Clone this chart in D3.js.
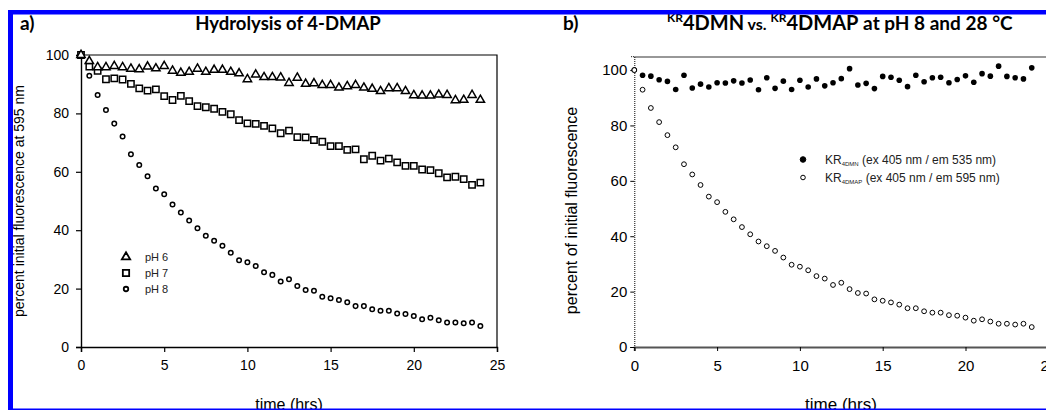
<!DOCTYPE html>
<html>
<head>
<meta charset="utf-8">
<script src="https://cdn.jsdelivr.net/npm/d3@7"></script>
<style>
  body { margin: 0; background: #fff; }
  svg { display: block; }
  .tick text { font-family: "Liberation Sans", Arial, sans-serif; }
</style>
</head>
<body>
<div id="chart"></div>
<script>
// sampling times (hrs)
const times = [0, 0.5, 1, 1.5, 2, 2.5, 3, 3.5, 4, 4.5, 5, 5.5, 6, 6.5, 7, 7.5, 8, 8.5, 9, 9.5,
  10, 10.5, 11, 11.5, 12, 12.5, 13, 13.5, 14, 14.5, 15, 15.5, 16, 16.5, 17, 17.5, 18, 18.5, 19, 19.5,
  20, 20.5, 21, 21.5, 22, 22.5, 23, 23.5, 24]

// panel a: hydrolysis of 4-DMAP
const ph6 = [100, 97.9, 95.8, 95.8, 96.2, 95.8, 95.3, 95.1, 96.0, 95.4, 96.2, 94.6, 93.9, 94.2, 95.3, 94.2,
  94.9, 94.9, 94.2, 93.7, 91.7, 93.3, 92.4, 92.4, 92.3, 90.4, 92.2, 90.1, 90.3, 89.7, 89.7, 88.8, 89.3,
  89.7, 88.8, 88.4, 87.6, 88.6, 88.6, 87.6, 86.2, 86.1, 86.1, 86.4, 86.3, 84.5, 84.6, 86.3, 84.6]
const ph7 = [100, 96.0, 94.6, 91.7, 92.0, 91.6, 90.1, 88.6, 87.8, 88.2, 85.9, 84.6, 86.0, 84.2, 82.5, 82.1,
  81.6, 80.5, 79.7, 77.7, 76.6, 76.4, 75.7, 74.9, 73.2, 74.1, 71.9, 71.8, 70.9, 70.3, 68.8, 68.8, 67.5,
  67.7, 64.3, 65.5, 63.8, 64.5, 63.2, 62.0, 62.0, 60.8, 60.6, 59.5, 58.1, 58.3, 57.5, 55.5, 56.3]
const ph8 = [100, 92.9, 86.3, 81.2, 76.5, 72.1, 66.0, 62.3, 58.5, 54.3, 52.3, 48.8, 46.1, 43.3, 40.7, 38.1,
  36.4, 34.7, 32.3, 29.7, 29.0, 27.7, 25.6, 24.7, 22.4, 23.2, 20.9, 19.5, 19.3, 17.2, 16.7, 16.1, 15.3,
  14.0, 14.0, 12.9, 12.4, 12.4, 11.5, 11.3, 10.6, 9.5, 10.0, 9.2, 8.4, 8.4, 8.1, 8.4, 7.2]

// panel b: KR4DMN vs KR4DMAP at pH 8
const kr4dmn = [100, 98.1, 97.8, 96.5, 95.9, 93.0, 98.1, 93.5, 94.9, 93.9, 95.4, 95.3, 96.1, 95.3, 96.4, 92.9,
  97.2, 93.4, 96.0, 93.0, 96.3, 93.9, 96.8, 94.3, 95.4, 96.9, 100.5, 94.6, 95.2, 93.3, 97.7, 97.4, 96.3,
  94.0, 98.1, 95.8, 97.2, 97.4, 95.4, 96.6, 97.9, 95.6, 98.7, 97.8, 101.4, 97.7, 97.2, 96.8, 100.8]
const kr4dmap = ph8

const xTicks = [0, 5, 10, 15, 20, 25]
const yTicks = [0, 20, 40, 60, 80, 100]

const W = 1046, H = 410
const svg = d3.select("#chart").append("svg")
  .attr("width", W).attr("height", H)

const titleFont = "Lato, 'Open Sans', sans-serif"
const arial = "'Liberation Sans', Arial, sans-serif"

// ---------- panel a ----------
const xa = d3.scaleLinear().domain([0, 25]).range([81, 497])
const ya = d3.scaleLinear().domain([0, 100]).range([347, 55])

const ga = svg.append("g")

// frame (top + right)
ga.append("path")
  .attr("d", `M${xa(0)},${ya(100)}H${xa(25)}V${ya(0)}`)
  .attr("fill", "none").attr("stroke", "#000").attr("stroke-width", 1.2)

const axA = ga.append("g")
  .attr("transform", `translate(0,${ya(0)})`)
  .call(d3.axisBottom(xa).tickValues(xTicks).tickSize(5).tickPadding(8))
const ayA = ga.append("g")
  .attr("transform", `translate(${xa(0)},0)`)
  .call(d3.axisLeft(ya).tickValues(yTicks).tickSize(5).tickPadding(7))
;[axA, ayA].forEach(a => {
  a.select(".domain").attr("stroke-width", 1.4)
  a.selectAll(".tick line").attr("stroke-width", 1.2)
  a.selectAll(".tick text").attr("font-size", 14).attr("fill", "#000")
})

const sym = (type, size) => d3.symbol().type(type).size(size)()

function drawSeries(g, vals, path, x, y) {
  g.append("g").selectAll("path")
    .data(vals)
    .join("path")
    .attr("d", path)
    .attr("transform", (d, i) => `translate(${x(times[i])},${y(d)})`)
    .attr("fill", "#fff").attr("stroke", "#000").attr("stroke-width", 1.5)
}

const triPath = sym(d3.symbolTriangle, 30)
const sqPath = sym(d3.symbolSquare, 40)
const cirPath = sym(d3.symbolCircle, 16)

drawSeries(ga, ph8, cirPath, xa, ya)
drawSeries(ga, ph7, sqPath, xa, ya)
drawSeries(ga, ph6, triPath, xa, ya)

// legend a
const legA = [["pH 6", triPath], ["pH 7", sqPath], ["pH 8", cirPath]]
legA.forEach((d, i) => {
  const yy = 257 + i * 16
  ga.append("path").attr("d", d[1])
    .attr("transform", `translate(126,${yy})`)
    .attr("fill", "#fff").attr("stroke", "#000").attr("stroke-width", 1.8)
  ga.append("text").attr("x", 145).attr("y", yy + 4)
    .attr("font-family", arial).attr("font-size", 11).attr("fill", "#222")
    .text(d[0])
})

ga.append("text")
  .attr("transform", `translate(24,${(ya(0) + ya(100)) / 2}) rotate(-90)`)
  .attr("text-anchor", "middle")
  .attr("font-family", arial).attr("font-size", 14)
  .text("percent initial fluorescence at 595 nm")

ga.append("text").attr("x", 289).attr("y", 410)
  .attr("text-anchor", "middle")
  .attr("font-family", arial).attr("font-size", 16)
  .text("time (hrs)")

ga.append("text").attr("x", 20).attr("y", 30)
  .attr("font-family", titleFont).attr("font-weight", "bold").attr("font-size", 19)
  .text("a)")
ga.append("text").attr("x", 288).attr("y", 30)
  .attr("text-anchor", "middle")
  .attr("font-family", titleFont).attr("font-weight", "bold").attr("font-size", 18.5)
  .text("Hydrolysis of 4-DMAP")

// ---------- panel b ----------
const xb = d3.scaleLinear().domain([0, 25]).range([634.3, 1048.3])
const yb = d3.scaleLinear().domain([0, 105]).range([347, 56.2])

const gb = svg.append("g")

gb.append("line")
  .attr("x1", xb(0)).attr("x2", W).attr("y1", 57).attr("y2", 57)
  .attr("stroke", "#333").attr("stroke-width", 1.2)

const axB = gb.append("g")
  .attr("transform", `translate(0,${yb(0)})`)
  .call(d3.axisBottom(xb).tickValues(xTicks).tickSize(4).tickPadding(9))
const ayB = gb.append("g")
  .attr("transform", `translate(${xb(0)},0)`)
  .call(d3.axisLeft(yb).tickValues(yTicks).tickSize(4).tickPadding(3))
axB.select(".domain").attr("stroke", "#555").attr("stroke-width", 2)
ayB.select(".domain").attr("stroke", "#000").attr("stroke-width", 1).attr("stroke-dasharray", "1,1")
;[axB, ayB].forEach(a => {
  a.selectAll(".tick line").attr("stroke-width", 1)
  a.selectAll(".tick text").attr("font-size", 15).attr("fill", "#000")
})

gb.append("g").selectAll("circle")
  .data(kr4dmn)
  .join("circle")
  .attr("cx", (d, i) => xb(times[i]))
  .attr("cy", d => yb(d))
  .attr("r", 2.8)
  .attr("fill", "#000")

gb.append("g").selectAll("circle")
  .data(kr4dmap)
  .join("circle")
  .attr("cx", (d, i) => xb(times[i]))
  .attr("cy", d => yb(d))
  .attr("r", 2.4)
  .attr("fill", "#fff").attr("stroke", "#000").attr("stroke-width", 1)

// legend b
const legB = [["4DMN", "(ex 405 nm / em 535 nm)", true], ["4DMAP", "(ex 405 nm / em 595 nm)", false]]
legB.forEach((d, i) => {
  const yy = 159.5 + i * 18
  gb.append("circle").attr("cx", 803).attr("cy", yy).attr("r", d[2] ? 2.8 : 2.3)
    .attr("fill", d[2] ? "#000" : "#fff").attr("stroke", "#000").attr("stroke-width", 1)
  const t = gb.append("text").attr("x", 825).attr("y", yy + 4)
    .attr("font-family", arial).attr("font-size", 12).attr("fill", "#222")
  t.append("tspan").text("KR")
  t.append("tspan").attr("font-size", 6).attr("dy", 2).text(d[0])
  t.append("tspan").attr("dy", -2).text(" " + d[1])
})

gb.append("text")
  .attr("transform", `translate(577,${(yb(0) + yb(100)) / 2 + 2}) rotate(-90)`)
  .attr("text-anchor", "middle")
  .attr("font-family", arial).attr("font-size", 16)
  .text("percent of initial fluorescence")

gb.append("text").attr("x", 841).attr("y", 410)
  .attr("text-anchor", "middle")
  .attr("font-family", arial).attr("font-size", 17)
  .text("time (hrs)")

gb.append("text").attr("x", 563).attr("y", 30)
  .attr("font-family", titleFont).attr("font-weight", "bold").attr("font-size", 19)
  .text("b)")

const tb = gb.append("text").attr("x", 667).attr("y", 30)
  .attr("font-family", titleFont).attr("font-weight", "bold").attr("font-size", 20)
tb.append("tspan").attr("font-size", 12).attr("dy", -8).text("KR")
tb.append("tspan").attr("dy", 8).text("4DMN")
tb.append("tspan").attr("font-size", 16).text(" vs. ")
tb.append("tspan").attr("font-size", 12).attr("dy", -8).text("KR")
tb.append("tspan").attr("dy", 8).text("4DMAP")
tb.append("tspan").attr("font-size", 19).text(" at pH 8 and 28 °C")

// ---------- blue border ----------
svg.append("rect").attr("x", 8).attr("y", 10).attr("width", W - 8).attr("height", 4.5).attr("fill", "#0000ff")
svg.append("rect").attr("x", 8).attr("y", 10).attr("width", 5).attr("height", H - 10).attr("fill", "#0000ff")
svg.append("rect").attr("x", 8).attr("y", 408.5).attr("width", W - 8).attr("height", 1.5).attr("fill", "#0000ff")
</script>
</body>
</html>
